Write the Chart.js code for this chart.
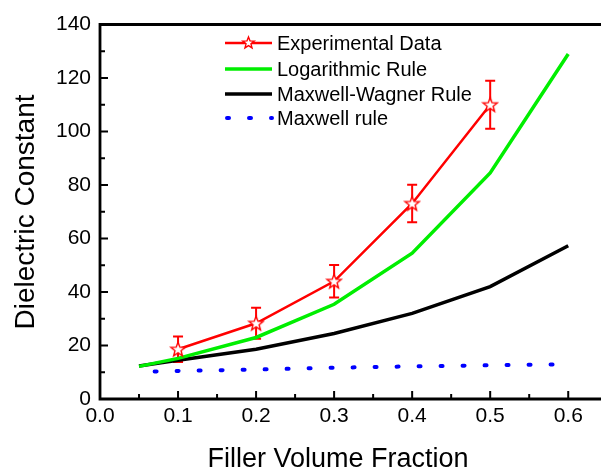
<!DOCTYPE html>
<html>
<head>
<meta charset="utf-8">
<script src="https://cdn.jsdelivr.net/npm/chart.js@4/dist/chart.umd.min.js"></script>
<style>
  body { margin: 0; background: #fff; overflow: hidden; }
  canvas { display: block; }
</style>
</head>
<body>
<canvas id="chartDielectric" width="601" height="475"></canvas>
<script>
// datos
const expX = [0.1, 0.2, 0.3, 0.4, 0.5];
const expY = [18.6, 28.3, 44.0, 73.1, 110.0];
const expErr = [4.8, 5.8, 6.1, 7.0, 9.0];

const ruleX = [0.05, 0.1, 0.2, 0.3, 0.4, 0.5, 0.6];
const logY = [12.2, 15.2, 23.0, 35.4, 54.5, 84.5, 129.0];
const mwY = [12.3, 14.5, 18.6, 24.5, 32.0, 42.0, 57.3];

const maxwellX = [0.07, 0.1, 0.2, 0.3, 0.4, 0.5, 0.6];
const maxwellY = [10.3, 10.5, 11.0, 11.7, 12.2, 12.6, 13.0];

const xTicksMajor = [0, 0.1, 0.2, 0.3, 0.4, 0.5, 0.6];
const yTicksMajor = [0, 20, 40, 60, 80, 100, 120, 140];

const FONT = "'Liberation Sans', Arial, sans-serif";
Chart.defaults.font.family = FONT;
Chart.defaults.color = '#000';

function puntos(xs, ys) {
  return xs.map((x, i) => ({ x: x, y: ys[i] }));
}

// estrella hueca
function dibujarEstrella(ctx, cx, cy, rOut, rIn) {
  ctx.beginPath();
  for (let i = 0; i < 10; i++) {
    const r = i % 2 === 0 ? rOut : rIn;
    const a = -Math.PI / 2 + i * Math.PI / 5;
    const px = cx + r * Math.cos(a), py = cy + r * Math.sin(a);
    if (i === 0) ctx.moveTo(px, py); else ctx.lineTo(px, py);
  }
  ctx.closePath();
  ctx.fillStyle = '#fff';
  ctx.fill();
  ctx.strokeStyle = '#ff0000';
  ctx.lineWidth = 1.4;
  ctx.stroke();
}

const starImg = document.createElement('canvas');
starImg.width = 18; starImg.height = 18;
dibujarEstrella(starImg.getContext('2d'), 9, 9.5, 7.5, 3.2);

const marcoPlugin = {
  id: 'marco',
  beforeDatasetsDraw(chart) {
    // barras de error
    const ctx = chart.ctx, xs = chart.scales.x, ys = chart.scales.y;
    ctx.save();
    ctx.strokeStyle = '#ff0000';
    ctx.lineWidth = 2;
    expX.forEach((x, i) => {
      const px = xs.getPixelForValue(x);
      const top = ys.getPixelForValue(expY[i] + expErr[i]);
      const bot = ys.getPixelForValue(expY[i] - expErr[i]);
      ctx.beginPath();
      ctx.moveTo(px, top); ctx.lineTo(px, bot);
      ctx.moveTo(px - 5, top); ctx.lineTo(px + 5, top);
      ctx.moveTo(px - 5, bot); ctx.lineTo(px + 5, bot);
      ctx.stroke();
    });
    ctx.restore();
  },
  afterDraw(chart) {
    const ctx = chart.ctx, a = chart.chartArea;
    const xs = chart.scales.x, ys = chart.scales.y;
    ctx.save();
    ctx.strokeStyle = '#000';
    ctx.lineWidth = 2.8;
    ctx.beginPath();
    ctx.moveTo(chart.width, a.top); ctx.lineTo(a.left, a.top);
    ctx.lineTo(a.left, a.bottom); ctx.lineTo(chart.width, a.bottom);
    ctx.stroke();

    // marcas hacia dentro
    ctx.lineWidth = 2;
    ctx.beginPath();
    for (let v = 10; v < 140; v += 10) {
      const py = ys.getPixelForValue(v);
      const len = v % 20 === 0 ? 8 : 5;
      ctx.moveTo(a.left, py); ctx.lineTo(a.left + len, py);
    }
    for (let k = 1; k <= 12; k++) {
      const px = xs.getPixelForValue(k * 0.05);
      const len = k % 2 === 0 ? 8 : 5;
      ctx.moveTo(px, a.bottom); ctx.lineTo(px, a.bottom - len);
    }
    ctx.stroke();

    // titulos de ejes
    ctx.fillStyle = '#000';
    ctx.textAlign = 'center';
    ctx.textBaseline = 'middle';
    ctx.font = '27px ' + FONT;
    ctx.fillText('Filler Volume Fraction', 338, 460);
    ctx.save();
    ctx.translate(26, 212);
    ctx.rotate(-Math.PI / 2);
    ctx.font = '28px ' + FONT;
    ctx.fillText('Dielectric Constant', 0, 0);
    ctx.restore();

    // leyenda
    const lx0 = 225, lx1 = 272, tx = 277;
    const filas = [43, 69, 94, 118];
    ctx.font = '20px ' + FONT;
    ctx.textAlign = 'left';
    const items = chart.data.datasets;
    items.forEach((ds, i) => {
      const y = filas[i];
      ctx.save();
      ctx.strokeStyle = ds.borderColor;
      ctx.lineWidth = ds.borderWidth;
      ctx.lineCap = ds.borderCapStyle || 'butt';
      ctx.setLineDash(ds.borderDash || []);
      ctx.beginPath();
      ctx.moveTo(lx0 + (ds.borderDash ? 2 : 0), y); ctx.lineTo(lx1, y);
      ctx.stroke();
      ctx.restore();
      if (i === 0) dibujarEstrella(ctx, (lx0 + lx1) / 2, y, 6, 2.6);
      ctx.fillStyle = '#000';
      ctx.fillText(ds.label, tx, y + 1);
    });
    ctx.restore();
  }
};

new Chart(document.getElementById('chartDielectric'), {
  type: 'line',
  data: {
    datasets: [{
      label: 'Experimental Data',
      data: puntos(expX, expY),
      borderColor: '#ff0000',
      borderWidth: 2.5,
      pointStyle: starImg,
      pointRadius: 8
    }, {
      label: 'Logarithmic Rule',
      data: puntos(ruleX, logY),
      borderColor: '#00ee00',
      borderWidth: 3.5,
      pointRadius: 0
    }, {
      label: 'Maxwell-Wagner Rule',
      data: puntos(ruleX, mwY),
      borderColor: '#000000',
      borderWidth: 3.5,
      pointRadius: 0
    }, {
      label: 'Maxwell rule',
      data: puntos(maxwellX, maxwellY),
      borderColor: '#0000ff',
      borderWidth: 4,
      borderDash: [2, 20],
      borderCapStyle: 'round',
      pointRadius: 0
    }]
  },
  options: {
    responsive: false,
    animation: false,
    layout: { autoPadding: false, padding: { top: 24.5, right: 0, left: 0, bottom: 0 } },
    plugins: { legend: { display: false }, tooltip: { enabled: false } },
    scales: {
      x: {
        type: 'linear',
        min: 0,
        max: 0.642,
        afterFit: s => { s.height = 76; s.paddingLeft = 0; s.paddingRight = 0; },
        afterBuildTicks: s => { s.ticks = xTicksMajor.map(v => ({ value: v })); },
        grid: { display: false, drawTicks: false },
        border: { display: false },
        ticks: {
          padding: 5,
          font: { size: 21 },
          color: '#000',
          maxRotation: 0,
          callback: v => v.toFixed(1)
        }
      },
      y: {
        min: 0,
        max: 140,
        afterFit: s => { s.width = 100; s.paddingTop = 0; s.paddingBottom = 0; },
        afterBuildTicks: s => { s.ticks = yTicksMajor.map(v => ({ value: v })); },
        grid: { display: false, drawTicks: false },
        border: { display: false },
        ticks: {
          padding: 9,
          font: { size: 21 },
          color: '#000'
        }
      }
    }
  },
  plugins: [marcoPlugin]
});
</script>
</body>
</html>
